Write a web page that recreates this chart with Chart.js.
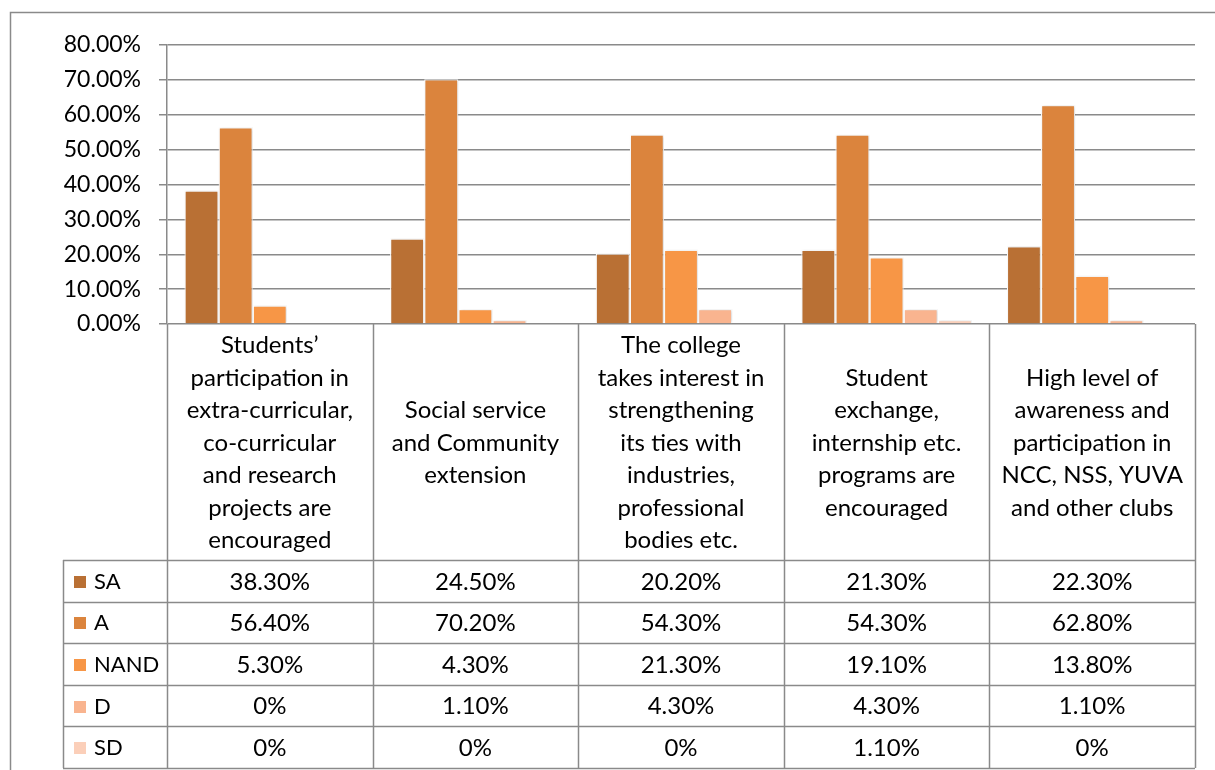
<!DOCTYPE html>
<html>
<head>
<meta charset="utf-8">
<script src="https://cdn.jsdelivr.net/npm/chart.js@4.4.1/dist/chart.umd.min.js"></script>
<style>
html,body{margin:0;padding:0;background:#fff;}
#wrap{width:1215px;height:770px;position:relative;}
</style>
</head>
<body>
<div id="wrap"><canvas id="c" width="1215" height="770"></canvas></div>
<script>
// ---- data ----
const categories = [
  ["Students’", "participation in", "extra-curricular,", "co-curricular", "and research", "projects are", "encouraged"],
  ["Social service", "and Community", "extension"],
  ["The college", "takes interest in", "strengthening", "its ties with", "industries,", "professional", "bodies etc."],
  ["Student", "exchange,", "internship etc.", "programs are", "encouraged"],
  ["High level of", "awareness and", "participation in", "NCC, NSS, YUVA", "and other clubs"]
];
const seriesNames = ["SA", "A", "NAND", "D", "SD"];
const SA   = [38.3, 24.5, 20.2, 21.3, 22.3];
const A    = [56.4, 70.2, 54.3, 54.3, 62.8];
const NAND = [5.3, 4.3, 21.3, 19.1, 13.8];
const D    = [0, 1.1, 4.3, 4.3, 1.1];
const SD   = [0, 0, 0, 1.1, 0];
const yTicks = [0, 10, 20, 30, 40, 50, 60, 70, 80];

const seriesValues = [SA, A, NAND, D, SD];
const colors = ["#b97034", "#db843d", "#f79646", "#f9b48f", "#fbcfb9"];
const FONT = "Lato, 'Open Sans', sans-serif";
const TEXT = "#000";
const LINE = "#8a8a8a";

function fmtTable(v){ return v === 0 ? "0%" : v.toFixed(2) + "%"; }

const tablePlugin = {
  id: "tablePlugin",
  beforeDraw(chart){
    const ctx = chart.ctx;
    ctx.save();
    ctx.fillStyle = "#fff";
    ctx.fillRect(0, 0, chart.width, chart.height);
    ctx.strokeStyle = LINE;
    ctx.lineWidth = 1.5;
    ctx.strokeRect(10.5, 12.5, chart.width + 20, chart.height + 20);
    ctx.restore();
  },
  beforeDatasetsDraw(chart){
    const ctx = chart.ctx;
    ctx.save();
    ctx.shadowColor = "rgba(0,0,0,0.18)";
    ctx.shadowBlur = 3;
    ctx.shadowOffsetX = 1;
    ctx.shadowOffsetY = 0;
  },
  afterDatasetsDraw(chart){
    chart.ctx.restore();
  },
  afterDraw(chart){
    const ctx = chart.ctx;
    const x = chart.scales.x;
    const n = categories.length;
    const left = x.left, right = x.right;
    const cw = (right - left) / n;
    const top = chart.chartArea.bottom;
    const labelBottom = top + 236;
    const rowH = 41.6;
    const tableBottom = labelBottom + rowH * seriesNames.length;
    const legendLeft = 63;

    ctx.save();
    ctx.strokeStyle = LINE;
    ctx.lineWidth = 1.5;
    for (let i = 0; i <= n; i++) {
      const px = Math.round(left + i * cw) + 0.5;
      ctx.beginPath(); ctx.moveTo(px, top); ctx.lineTo(px, tableBottom); ctx.stroke();
    }
    ctx.beginPath(); ctx.moveTo(legendLeft + 0.5, labelBottom); ctx.lineTo(legendLeft + 0.5, tableBottom); ctx.stroke();
    for (let r = 0; r <= seriesNames.length; r++) {
      const py = Math.round(labelBottom + r * rowH) + 0.5;
      ctx.beginPath(); ctx.moveTo(legendLeft, py); ctx.lineTo(right, py); ctx.stroke();
    }

    // category labels
    ctx.fillStyle = TEXT;
    ctx.font = "24px " + FONT;
    ctx.textAlign = "center";
    ctx.textBaseline = "middle";
    const lh = 32.5;
    categories.forEach((lines, i) => {
      const cx = left + (i + 0.5) * cw;
      const cy = (top + labelBottom) / 2 + 1;
      const startY = cy - (lines.length - 1) * lh / 2;
      lines.forEach((t, k) => ctx.fillText(t, cx, startY + k * lh));
    });

    // data rows
    seriesNames.forEach((name, r) => {
      const cy = labelBottom + (r + 0.5) * rowH + 1;
      ctx.fillStyle = colors[r];
      ctx.fillRect(74, Math.round(cy - 6), 12, 12);
      ctx.fillStyle = TEXT;
      ctx.textAlign = "left";
      ctx.font = "22px " + FONT;
      ctx.fillText(name, 94, cy);
      ctx.font = "24px " + FONT;
      ctx.textAlign = "center";
      seriesValues[r].forEach((v, i) => {
        ctx.fillText(fmtTable(v), left + (i + 0.5) * cw, cy);
      });
    });
    ctx.restore();
  }
};

new Chart(document.getElementById("c"), {
  type: "bar",
  data: {
    labels: categories.map(l => l.join(" ")),
    datasets: seriesNames.map((name, i) => ({
      label: name,
      data: seriesValues[i],
      backgroundColor: colors[i],
      borderColor: "#ffffff",
      borderWidth: 1.2,
      categoryPercentage: 0.83,
      barPercentage: 1.0
    }))
  },
  options: {
    responsive: false,
    animation: false,
    devicePixelRatio: 1,
    layout: { padding: { top: 45, right: 20, bottom: 446, left: 0 } },
    plugins: { legend: { display: false }, tooltip: { enabled: false } },
    scales: {
      x: {
        display: true,
        grid: { display: false, drawTicks: false },
        border: { display: false },
        ticks: { display: false },
        afterFit(s){ s.height = 0; }
      },
      y: {
        min: 0, max: 80,
        afterBuildTicks(s){ s.ticks = yTicks.map(v => ({ value: v })); },
        afterFit(s){ s.width = 167; },
        grid: { color: LINE, lineWidth: 1.5, tickLength: 8, drawTicks: true },
        border: { display: true, color: LINE, width: 1.5 },
        ticks: {
          color: TEXT,
          font: { family: FONT, size: 23 },
          padding: 18,
          callback: v => v.toFixed(2) + "%"
        }
      }
    }
  },
  plugins: [tablePlugin]
});
</script>
</body>
</html>
